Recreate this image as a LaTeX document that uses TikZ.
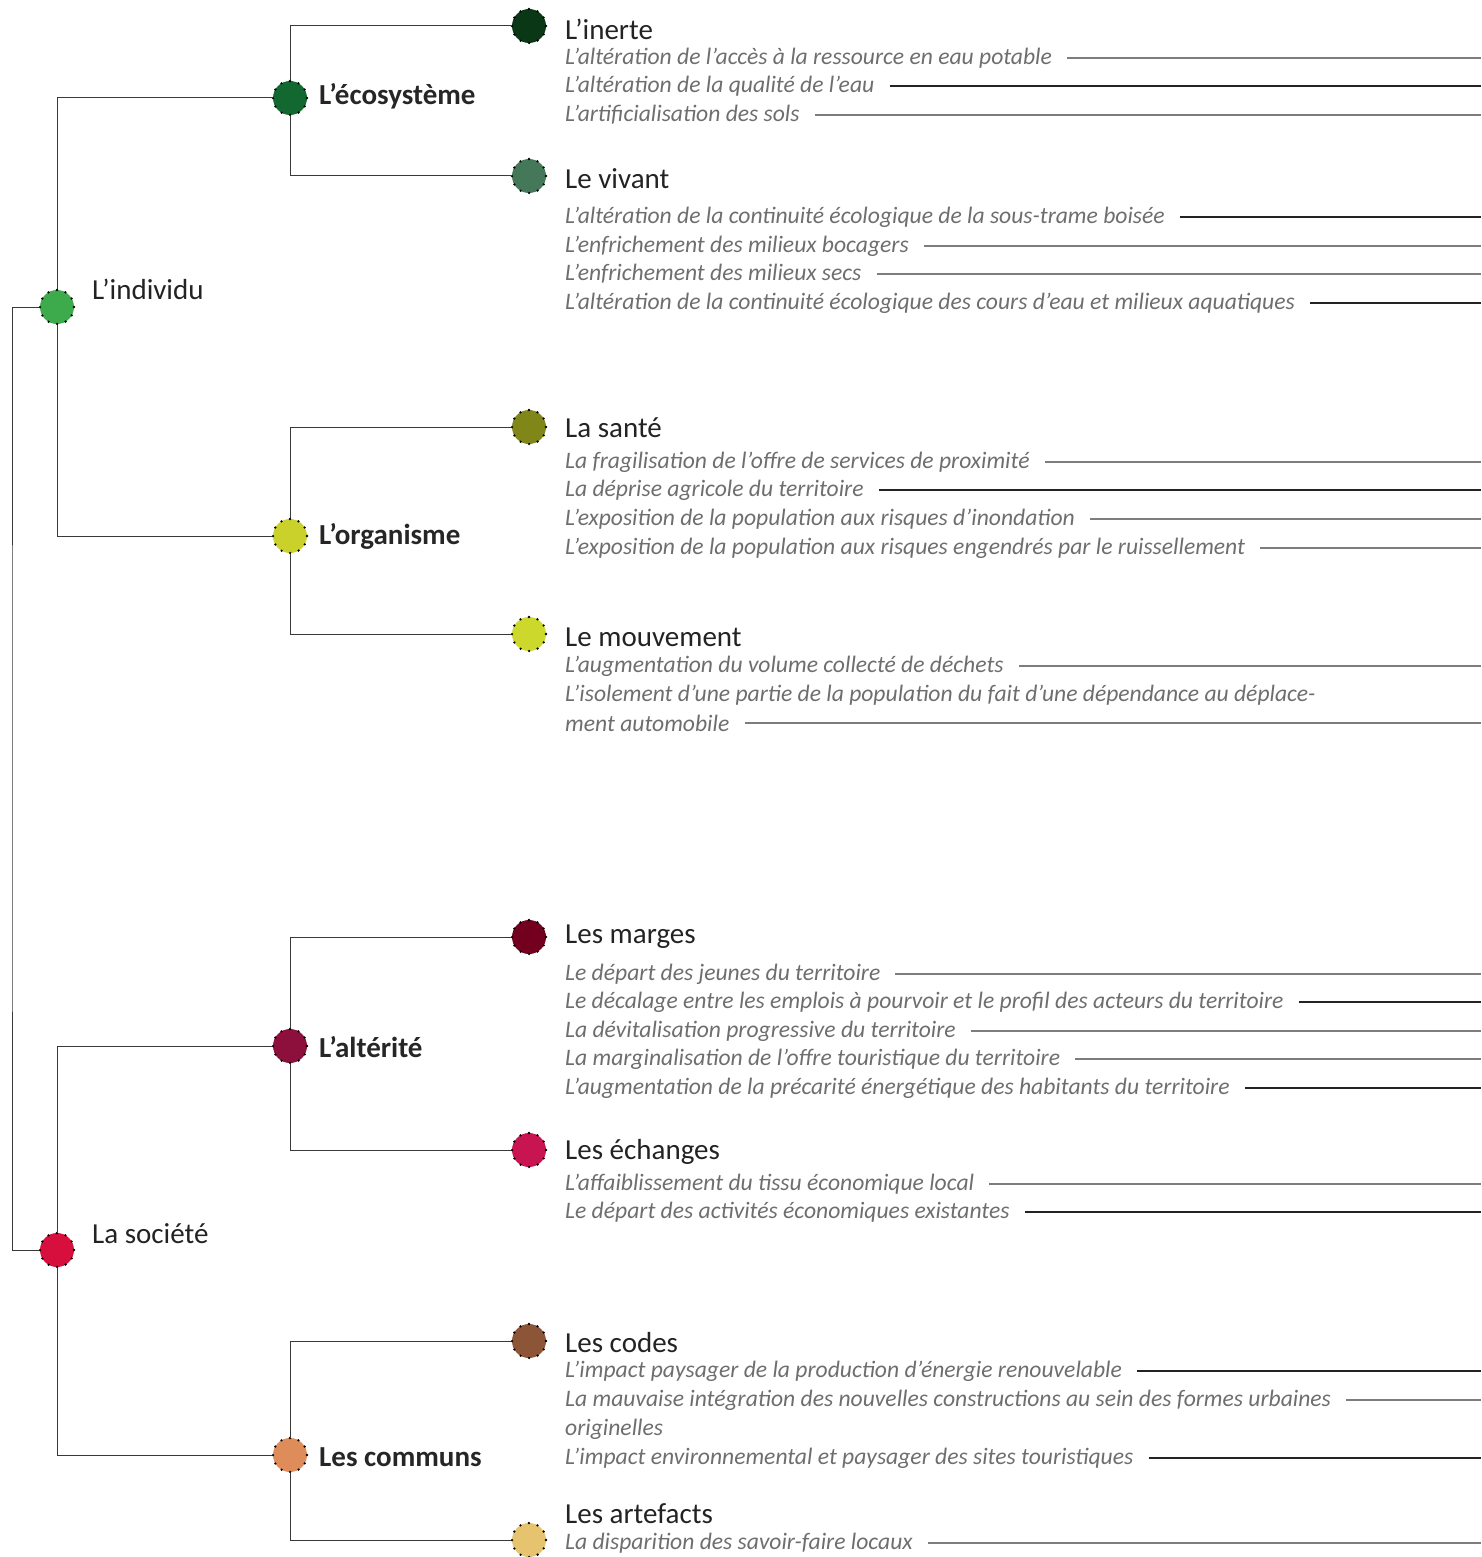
\documentclass[tikz,border=0pt]{standalone}
\usepackage{fontspec}
\setmainfont{Carlito}
\usetikzlibrary{positioning}

\definecolor{cInerte}{RGB}{10,56,22}
\definecolor{cEco}{RGB}{18,104,48}
\definecolor{cVivant}{RGB}{68,120,88}
\definecolor{cIndiv}{RGB}{61,170,75}
\definecolor{cSante}{RGB}{128,134,24}
\definecolor{cOrga}{RGB}{201,209,42}
\definecolor{cMouv}{RGB}{204,216,44}
\definecolor{cMarges}{RGB}{114,0,30}
\definecolor{cAlter}{RGB}{140,15,60}
\definecolor{cEchange}{RGB}{200,20,80}
\definecolor{cSoc}{RGB}{215,15,60}
\definecolor{cCodes}{RGB}{140,85,55}
\definecolor{cCommuns}{RGB}{222,140,90}
\definecolor{cArte}{RGB}{230,195,110}
\definecolor{itemgray}{RGB}{110,110,110}
\definecolor{leadgray}{RGB}{125,125,125}
\definecolor{titlegray}{RGB}{35,35,35}

\tikzset{
  dot/.style={circle,minimum size=34pt,inner sep=0pt,draw=black,line width=2.6pt,
    dash pattern=on 0pt off 8.9pt,line cap=round},
  tree/.style={draw=titlegray!90,line width=1pt},
  lvlone/.style={anchor=west,inner sep=0pt,text=titlegray,font=\fontsize{29}{34}\selectfont},
  lvltwo/.style={anchor=west,inner sep=0pt,text=black!85,font=\fontsize{29}{34}\selectfont\bfseries},
  lvlthree/.style={anchor=west,inner sep=0pt,text=titlegray,font=\fontsize{29}{34}\selectfont},
  item/.style={anchor=west,inner sep=0pt,text=itemgray,font=\fontsize{23.6}{28}\selectfont\itshape},
  lead/.style={draw=leadgray,line width=1.2pt},
  leadk/.style={draw=titlegray,line width=1.2pt}
}

\begin{document}
\begin{tikzpicture}[x=1pt,y=-1pt]
  \useasboundingbox (0,0) rectangle (1481,1557);
  \coordinate (edge) at (1481,0);
  \coordinate (root) at (12,778);

  \node[dot,fill=cIndiv]   (indiv)   at (57,307)  {};
  \node[dot,fill=cSoc]     (soc)     at (57,1250) {};
  \node[dot,fill=cEco]     (eco)     at (290,98)  {};
  \node[dot,fill=cOrga]    (orga)    at (290,536) {};
  \node[dot,fill=cAlter]   (alter)   at (290,1046){};
  \node[dot,fill=cCommuns] (communs) at (290,1455){};
  \node[dot,fill=cInerte]  (inerte)  at (529,26)  {};
  \node[dot,fill=cVivant]  (vivant)  at (529,176) {};
  \node[dot,fill=cSante]   (sante)   at (529,427) {};
  \node[dot,fill=cMouv]    (mouv)    at (529,634) {};
  \node[dot,fill=cMarges]  (marges)  at (529,937) {};
  \node[dot,fill=cEchange] (echange) at (529,1150){};
  \node[dot,fill=cCodes]   (codes)   at (529,1341){};
  \node[dot,fill=cArte]    (arte)    at (529,1540){};

  \node[lvlone] (tIndiv) at (92,289)  {L’individu};
  \node[lvlone] (tSoc)   at (92,1234) {La société};
  \node[lvltwo] (tEco)     at (319,96)   {L’écosystème};
  \node[lvltwo] (tOrga)    at (319,536)  {L’organisme};
  \node[lvltwo] (tAlter)   at (319,1047) {L’altérité};
  \node[lvltwo] (tCommuns) at (319,1457) {Les communs};
  \node[lvlthree] (tInerte)  at (565,29)   {L’inerte};
  \node[lvlthree] (tVivant)  at (565,179)  {Le vivant};
  \node[lvlthree] (tSante)   at (565,428)  {La santé};
  \node[lvlthree] (tMouv)    at (565,637)  {Le mouvement};
  \node[lvlthree] (tMarges)  at (565,937)  {Les marges};
  \node[lvlthree] (tEchange) at (565,1152) {Les échanges};
  \node[lvlthree] (tCodes)   at (565,1343) {Les codes};
  \node[lvlthree] (tArte)    at (565,1514) {Les artefacts};

  \node[item] (i1) at (565,58)  {L’altération de l’accès à la ressource en eau potable};
  \node[item] (i2) at (565,86)  {L’altération de la qualité de l’eau};
  \node[item] (i3) at (565,115) {L’artificialisation des sols};
  \node[item] (v1) at (565,217) {L’altération de la continuité écologique de la sous-trame boisée};
  \node[item] (v2) at (565,246) {L’enfrichement des milieux bocagers};
  \node[item] (v3) at (565,274) {L’enfrichement des milieux secs};
  \node[item] (v4) at (565,303) {L’altération de la continuité écologique des cours d’eau et milieux aquatiques};
  \node[item] (s1) at (565,462) {La fragilisation de l’offre de services de proximité};
  \node[item] (s2) at (565,490) {La déprise agricole du territoire};
  \node[item] (s3) at (565,519) {L’exposition de la population aux risques d’inondation};
  \node[item] (s4) at (565,548) {L’exposition de la population aux risques engendrés par le ruissellement};
  \node[item] (m1) at (565,666) {L’augmentation du volume collecté de déchets};
  \node[item] (m2) at (565,695) {L’isolement d’une partie de la population du fait d’une dépendance au déplace-};
  \node[item] (m3) at (565,723) {ment automobile};
  \node[item] (g1) at (565,974)  {Le départ des jeunes du territoire};
  \node[item] (g2) at (565,1002) {Le décalage entre les emplois à pourvoir et le profil des acteurs du territoire};
  \node[item] (g3) at (565,1031) {La dévitalisation progressive du territoire};
  \node[item] (g4) at (565,1059) {La marginalisation de l’offre touristique du territoire};
  \node[item] (g5) at (565,1088) {L’augmentation de la précarité énergétique des habitants du territoire};
  \node[item] (e1) at (565,1184) {L’affaiblissement du tissu économique local};
  \node[item] (e2) at (565,1212) {Le départ des activités économiques existantes};
  \node[item] (c1) at (565,1371) {L’impact paysager de la production d’énergie renouvelable};
  \node[item] (c2) at (565,1400) {La mauvaise intégration des nouvelles constructions au sein des formes urbaines};
  \node[item] (c3) at (565,1429) {originelles};
  \node[item] (c4) at (565,1458) {L’impact environnemental et paysager des sites touristiques};
  \node[item] (a1) at (565,1543) {La disparition des savoir-faire locaux};

  \draw[tree] (indiv) -| (root) |- (soc);
  \foreach \u/\v in {indiv/eco,indiv/orga,soc/alter,soc/communs,
                     eco/inerte,eco/vivant,orga/sante,orga/mouv,
                     alter/marges,alter/echange,communs/codes,communs/arte}
    \draw[tree] (\u) |- (\v);

  \foreach \n in {i1,i3,v2,v3,s1,s3,s4,m1,m3,g1,g3,g4,e1,c2,a1}
    \draw[lead] ([xshift=15pt]\n.east) -- (\n.east -| edge);
  \foreach \n in {i2,v1,v4,s2,g2,g5,e2,c1,c4}
    \draw[leadk] ([xshift=15pt]\n.east) -- (\n.east -| edge);
\end{tikzpicture}
\end{document}
